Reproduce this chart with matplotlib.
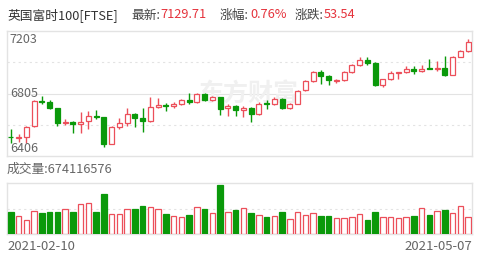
import matplotlib
matplotlib.use("Agg")
import matplotlib.pyplot as plt
import numpy as np

plt.rcParams['font.family'] = ['Noto Sans CJK SC', 'DejaVu Sans']

# FTSE 100 daily candles, 2021-02-10 .. 2021-05-07
opens = [6528, 6522, 6528, 6595, 6756, 6752, 6710, 6617, 6624, 6612,
         6626, 6659, 6652, 6483, 6589, 6614, 6675, 6651, 6630, 6719,
         6730, 6726, 6737, 6761, 6750, 6800, 6763, 6780, 6709, 6726,
         6699, 6713, 6675, 6741, 6736, 6772, 6714, 6737, 6824, 6885,
         6942, 6916, 6885, 6890, 6940, 6984, 7019, 7000, 6860, 6895,
         6935, 6939, 6960, 6945, 6965, 6962, 6970, 6923, 7039, 7076]
highs = [6580, 6545, 6595, 6760, 6790, 6760, 6712, 6640, 6626, 6685,
         6690, 6700, 6655, 6595, 6650, 6712, 6680, 6712, 6780, 6778,
         6745, 6750, 6770, 6805, 6810, 6805, 6790, 6785, 6740, 6730,
         6725, 6718, 6748, 6760, 6785, 6775, 6745, 6830, 6890, 6950,
         6955, 6920, 6898, 6945, 6990, 7035, 7035, 7005, 6900, 6945,
         6940, 6978, 6978, 6985, 7025, 7010, 7042, 7045, 7085, 7150]
lows = [6492, 6495, 6490, 6590, 6740, 6705, 6597, 6605, 6553, 6555,
        6580, 6645, 6465, 6480, 6580, 6600, 6590, 6559, 6625, 6710,
        6690, 6710, 6730, 6740, 6745, 6755, 6755, 6667, 6660, 6660,
        6655, 6623, 6670, 6705, 6730, 6708, 6708, 6735, 6820, 6880,
        6862, 6859, 6870, 6885, 6935, 6980, 6985, 6850, 6845, 6890,
        6900, 6935, 6930, 6940, 6958, 6950, 6918, 6920, 7035, 7070]
closes = [6524.36, 6528.72, 6589.79, 6756.11, 6748.86, 6710.90, 6617.15, 6624.02, 6612.24, 6625.94,
          6659.00, 6651.96, 6483.43, 6588.53, 6613.75, 6675.47, 6650.88, 6630.52, 6719.13, 6730.34,
          6725.60, 6736.96, 6761.47, 6749.70, 6803.61, 6762.67, 6779.68, 6708.71, 6726.10, 6699.19,
          6712.89, 6674.78, 6740.59, 6736.17, 6772.12, 6713.63, 6737.30, 6823.55, 6885.34, 6942.22,
          6915.75, 6889.12, 6890.49, 6939.58, 6983.50, 7019.53, 7000.08, 6859.87, 6895.29, 6938.24,
          6938.56, 6963.67, 6944.97, 6963.12, 6961.48, 6969.81, 6923.17, 7039.30, 7076.17, 7129.71]
# volume in millions
volumes = [869, 701, 546, 908, 807, 846, 869, 963, 846, 1157,
           1196, 846, 1547, 779, 779, 963, 963, 1091, 1040, 963,
           768, 701, 674, 740, 1040, 974, 830, 1910, 846, 935,
           1002, 830, 740, 651, 701, 869, 585, 846, 740, 807,
           701, 701, 612, 612, 674, 779, 546, 846, 674, 651,
           612, 651, 701, 1002, 740, 896, 935, 807, 1091, 674.116576]

y_ticks = [6406, 6805, 7203]
start_date = "2021-02-10"
end_date = "2021-05-07"

RED = '#ec4f5a'
GREEN = '#0a990a'
GRAY = '#666666'
GRID = '#e3e3e3'

W, H = 499, 261
fig = plt.figure(figsize=(W / 100, H / 100), dpi=100)

ax = fig.add_axes([7 / W, 105 / H, 465 / W, 125 / H])
axv = fig.add_axes([7 / W, 27 / H, 465 / W, 51 / H])

x = np.arange(len(closes))
o = np.array(opens, dtype=float)
c = np.array(closes)
up = c >= o
colors = [RED if u else GREEN for u in up]

# wicks
ax.vlines(x, lows, highs, colors=colors, linewidth=1, zorder=2)
# bodies
bottoms = np.minimum(o, c)
heights = np.abs(c - o)
face = ['white' if u else GREEN for u in up]
ax.bar(x, heights, bottom=bottoms, width=0.62, color=face, edgecolor=colors,
       linewidth=0.9, zorder=3)

ymin, ymax = y_ticks[0], y_ticks[-1]
ax.set_xlim(-0.5, len(closes) - 0.5)
ax.set_ylim(ymin, ymax)
span = ymax - ymin
for frac, ls in [(0.25, (0, (2, 3))), (0.5, '-'), (0.75, (0, (2, 3)))]:
    ax.axhline(ymin + span * frac, color=GRID, linewidth=0.8, linestyle=ls, zorder=0)

ax.text(0.006, 0.985, str(y_ticks[2]), transform=ax.transAxes, ha='left', va='top',
        fontsize=9, color=GRAY)
ax.text(0.006, 0.5, str(y_ticks[1]), transform=ax.transAxes, ha='left', va='center',
        fontsize=9, color=GRAY)
ax.text(0.006, 0.01, str(y_ticks[0]), transform=ax.transAxes, ha='left', va='bottom',
        fontsize=9, color=GRAY)

# watermark
ax.text(0.52, 0.5, '东方财富', transform=ax.transAxes, ha='center', va='center',
        fontsize=18, fontweight='bold', color='#f0f0f0', zorder=1)

# volume panel
axv.bar(x, volumes, width=0.68, color=face, edgecolor=colors, linewidth=0.9, zorder=3)
axv.set_xlim(-0.5, len(closes) - 0.5)
vtop = 1987
axv.set_ylim(0, vtop)
axv.axhline(vtop / 2, color=GRID, linewidth=0.8, linestyle=(0, (2, 3)), zorder=0)

for a in (ax, axv):
    a.set_xticks([])
    a.set_yticks([])
    for s in a.spines.values():
        s.set_color(GRID)
        s.set_linewidth(1)

# header
def ftext(px, py, s, color=GRAY, size=9.2, ha='left'):
    fig.text(px / W, 1 - py / H, s, ha=ha, va='center', fontsize=size, color=color)

ftext(7, 15, '英国富时100[FTSE]', color='#333333')
ftext(131, 15, '最新:', color='#444444')
ftext(160, 15, '7129.71', color='#e5333c')
ftext(220, 15, '涨幅:', color='#444444')
ftext(250, 15, '0.76%', color='#e5333c')
ftext(295, 15, '涨跌:', color='#444444')
ftext(324, 15, '53.54', color='#e5333c')

ftext(7, 169, '成交量:674116576', color=GRAY)
ftext(7, 246, start_date, color=GRAY, size=9.5)
ftext(472, 246, end_date, color=GRAY, size=9.5, ha='right')

fig.savefig('out.png', dpi=100, facecolor='white')
